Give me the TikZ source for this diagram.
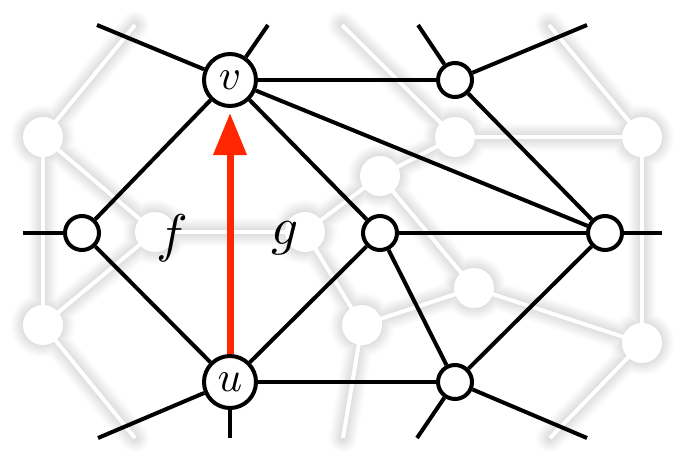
\documentclass[tikz,border=0pt]{standalone}
\usepackage{graphicx}
\usepackage{xcolor}
\usepackage{tikz}
\usetikzlibrary{arrows.meta}
\definecolor{flipred}{RGB}{255,38,0}
\newcommand{\bigmath}[2]{\scalebox{#1}{$#2$}}

\begin{document}
\begin{tikzpicture}[
  x=1pt,y=-1pt,
  vtx/.style={draw,circle,fill=white,line width=4pt,inner sep=0pt,minimum size=34pt},
  bigvtx/.style={vtx,minimum size=52pt},
  ghostvtx/.style={circle,fill=white,inner sep=0pt,minimum size=40pt},
  ed/.style={line width=4pt},
  ghosted/.style={white,line width=4pt},
  flip/.style={flipred,line width=7pt,-{Triangle[length=42pt,width=32pt]},shorten >=5pt},
  face/.style={inner sep=0pt},
]
\useasboundingbox (0,0) rectangle (684,463);

% faint dual graph in the back
\coordinate (g1) at (43,137);
\coordinate (g2) at (43,325);
\coordinate (g3) at (155,232);
\coordinate (g4) at (305,232);
\coordinate (g5) at (380,176);
\coordinate (g6) at (455,137);
\coordinate (g7) at (642,137);
\coordinate (g8) at (474,288);
\coordinate (g9) at (362,325);
\coordinate (g10) at (642,343);
\coordinate (g1s) at (135,25);
\coordinate (g2s) at (135,438);
\coordinate (g6s) at (342,25);
\coordinate (g7s) at (549,25);
\coordinate (g9s) at (343,438);
\coordinate (g10s) at (550,438);

% soft shadow
\foreach \s in {2,5,8,11,14,17,20,24} {
  \begin{scope}[shift={(2,3)},transparency group,opacity=0.016]
    \foreach \a/\b in {g1/g2,g1/g3,g2/g3,g3/g4,g4/g5,g4/g9,g5/g6,g5/g8,
                       g6/g7,g7/g10,g8/g10,g8/g9,g1/g1s,g2/g2s,g6/g6s,
                       g7/g7s,g9/g9s,g10/g10s}
      \draw[line width={(4+\s)*1pt},line cap=round] (\a) -- (\b);
    \foreach \n in {g1,g2,g3,g4,g5,g6,g7,g8,g9,g10}
      \fill (\n) circle ({20+\s/2});
  \end{scope}
}
\foreach \a/\b in {g1/g2,g1/g3,g2/g3,g3/g4,g4/g5,g4/g9,g5/g6,g5/g8,
                   g6/g7,g7/g10,g8/g10,g8/g9,g1/g1s,g2/g2s,g6/g6s,
                   g7/g7s,g9/g9s,g10/g10s}
  \draw[ghosted] (\a) -- (\b);
\foreach \n in {g1,g2,g3,g4,g5,g6,g7,g8,g9,g10}
  \node[ghostvtx] at (\n) {};

% primal graph
\node[bigvtx] (v) at (230,80) {\bigmath{4.3}{v}};
\node[bigvtx] (u) at (230,382) {\bigmath{4.3}{u}};
\node[vtx] (lf) at (82,233) {};
\node[vtx] (md) at (380,233) {};
\node[vtx] (rt) at (605,233) {};
\node[vtx] (tr) at (455,80) {};
\node[vtx] (br) at (455,382) {};

\coordinate (vnw) at (97,25);
\coordinate (vne) at (268,25);
\coordinate (trnw) at (418,25);
\coordinate (trne) at (587,25);
\coordinate (lfw) at (23,233);
\coordinate (rte) at (662,233);
\coordinate (usw) at (98,438);
\coordinate (us) at (230,438);
\coordinate (brsw) at (417,438);
\coordinate (brse) at (587,438);

\draw[ed] (v) -- (lf);
\draw[ed] (lf) -- (u);
\draw[ed] (v) -- (tr);
\draw[ed] (v) -- (rt);
\draw[ed] (v) -- (md);
\draw[ed] (md) -- (u);
\draw[ed] (md) -- (rt);
\draw[ed] (md) -- (br);
\draw[ed] (tr) -- (rt);
\draw[ed] (u) -- (br);
\draw[ed] (br) -- (rt);

\draw[ed] (v) -- (vnw);
\draw[ed] (v) -- (vne);
\draw[ed] (tr) -- (trnw);
\draw[ed] (tr) -- (trne);
\draw[ed] (lf) -- (lfw);
\draw[ed] (rt) -- (rte);
\draw[ed] (u) -- (usw);
\draw[ed] (u) -- (us);
\draw[ed] (br) -- (brsw);
\draw[ed] (br) -- (brse);

\node[face] (lblf) at (172,238) {\bigmath{5.3}{f}};
\node[face] (lblg) at (285,238) {\bigmath{5.3}{g}};

\draw[flip] (u) -- (v);
\end{tikzpicture}
\end{document}
